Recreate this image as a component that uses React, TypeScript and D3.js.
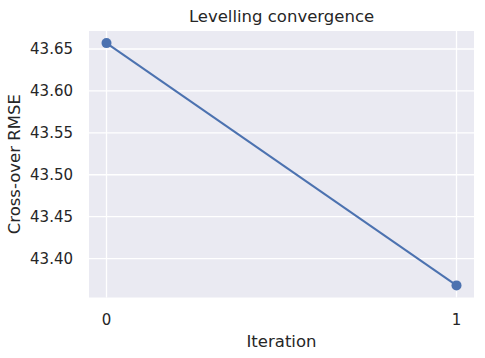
import React from 'react';
import * as d3 from 'd3';

const iterations = [0, 1];
const rmse = [43.657, 43.368];
const yTicks = [43.4, 43.45, 43.5, 43.55, 43.6, 43.65];
const xTicks = [0, 1];

const W = 485;
const H = 358;
const m = { left: 89, right: 11, top: 31, bottom: 60.5 };
const font = 'DejaVu Sans, sans-serif';

export default function App() {
  const [x0, x1] = d3.extent(iterations) as [number, number];
  const [y0, y1] = d3.extent(rmse) as [number, number];
  const xp = (x1 - x0) * 0.05;
  const yp = (y1 - y0) * 0.05;

  const x = d3.scaleLinear().domain([x0 - xp, x1 + xp]).range([m.left, W - m.right]);
  const y = d3.scaleLinear().domain([y0 - yp, y1 + yp]).range([H - m.bottom, m.top]);

  const line = d3.line<number>()
    .x((_, i) => x(iterations[i]))
    .y(d => y(d));

  return (
    <svg width={W} height={H} style={{ position: 'absolute', left: 0, top: 0 }}>
      <rect width={W} height={H} fill="#fff" />
      <rect x={m.left} y={m.top} width={W - m.left - m.right} height={H - m.top - m.bottom} fill="#EAEAF2" />
      {yTicks.map(t => (
        <g key={t}>
          <line x1={m.left} x2={W - m.right} y1={y(t)} y2={y(t)} stroke="#fff" strokeWidth={1.3} />
          <text x={73} y={y(t)} dy="0.36em" textAnchor="end" fontFamily={font} fontSize={15} fill="#262626">
            {t.toFixed(2)}
          </text>
        </g>
      ))}
      {xTicks.map(t => (
        <g key={t}>
          <line x1={x(t)} x2={x(t)} y1={m.top} y2={H - m.bottom} stroke="#fff" strokeWidth={1.3} />
          <text x={x(t)} y={325} textAnchor="middle" fontFamily={font} fontSize={15} fill="#262626">
            {t}
          </text>
        </g>
      ))}
      <path d={line(rmse) ?? ''} fill="none" stroke="#4C72B0" strokeWidth={2} />
      {rmse.map((v, i) => (
        <circle key={i} cx={x(iterations[i])} cy={y(v)} r={5} fill="#4C72B0" />
      ))}
      <text x={(m.left + W - m.right) / 2} y={22} textAnchor="middle" fontFamily={font} fontSize={16.5} fill="#262626">
        Levelling convergence
      </text>
      <text x={(m.left + W - m.right) / 2} y={346.5} textAnchor="middle" fontFamily={font} fontSize={16.5} fill="#262626">
        Iteration
      </text>
      <text transform={`translate(20,${(m.top + H - m.bottom) / 2}) rotate(-90)`} textAnchor="middle" fontFamily={font} fontSize={16.5} fill="#262626">
        Cross-over RMSE
      </text>
    </svg>
  );
}
